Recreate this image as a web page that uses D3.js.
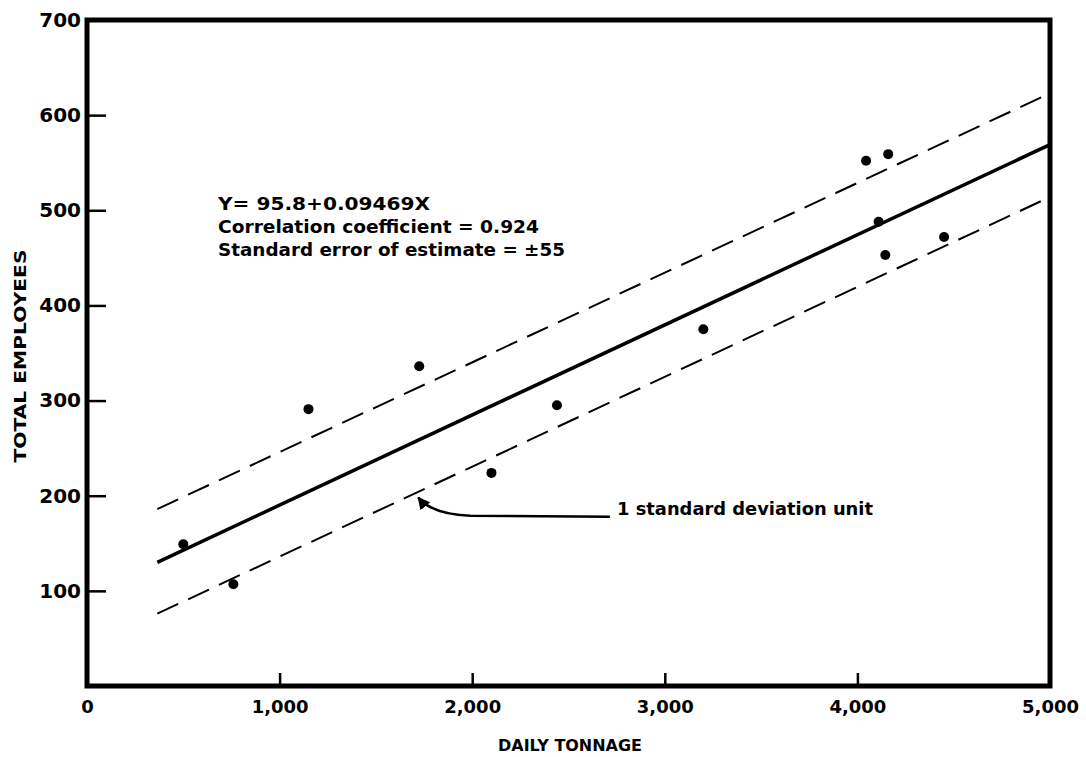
<!DOCTYPE html>
<html>
<head>
<meta charset="utf-8">
<script src="https://cdn.jsdelivr.net/npm/d3@7"></script>
<style>
  body { margin: 0; background: #fff; }
  svg text { font-family: "DejaVu Sans", sans-serif; font-weight: bold; fill: #000; }
</style>
</head>
<body>
<div class="chart"></div>
<script>
// data
var tonnage   = [500, 760, 1150, 1725, 2100, 2440, 3200, 4045, 4160, 4110, 4145, 4450];
var employees = [149, 107, 291, 336, 224, 295, 375, 552, 559, 488, 453, 472];

// regression line and +/- 1 standard error bands (end points)
var fitX   = [365, 5000];
var fitY   = [130, 569];
var upperY = [186, 623];
var lowerY = [76, 514];

var xTicks = [0, 1000, 2000, 3000, 4000, 5000];
var yTicks = [100, 200, 300, 400, 500, 600, 700];

var notes = ["Y= 95.8+0.09469X",
             "Correlation coefficient = 0.924",
             "Standard error of estimate = \u00B155"];
var noteWidths = [212, 321, 347];

var W = 1086, H = 757;
var svg = d3.select("div.chart").append("svg")
            .attr("width", W)
            .attr("height", H);

var x = d3.scaleLinear().domain([0, 5000]).range([87, 1050]);
var y = d3.scaleLinear().domain([0, 700]).range([686, 20]);

// lines
var line = d3.line()
             .x(function(d){ return x(d[0]); })
             .y(function(d){ return y(d[1]); });

svg.append("path")
   .attr("d", line(d3.zip(fitX, fitY)))
   .attr("fill", "none").attr("stroke", "#000").attr("stroke-width", 3.5);

[upperY, lowerY].forEach(function(band){
  svg.append("path")
     .attr("d", line(d3.zip(fitX, band)))
     .attr("fill", "none").attr("stroke", "#000").attr("stroke-width", 2)
     .attr("stroke-dasharray", "23,11");
});

// points
svg.selectAll(".pt")
   .data(d3.zip(tonnage, employees))
   .enter()
   .append("circle")
     .attr("cx", function(d){ return x(d[0]); })
     .attr("cy", function(d){ return y(d[1]); })
     .attr("r", 5)
     .attr("fill", "#000");

// axes
var yAxis = d3.axisLeft(y).tickValues(yTicks).tickSize(-19).tickPadding(6)
              .tickFormat(d3.format("d"));
var gy = svg.append("g").attr("transform", "translate(" + x(0) + ",0)").call(yAxis);
gy.select(".domain").remove();
gy.selectAll("line").attr("stroke", "#000").attr("stroke-width", 2.5);
gy.selectAll("text").style("font-size", "20px");

var xAxis = d3.axisBottom(x).tickValues(xTicks).tickSize(-13).tickPadding(14)
              .tickFormat(d3.format(","));
var gx = svg.append("g").attr("transform", "translate(0," + y(0) + ")").call(xAxis);
gx.select(".domain").remove();
gx.selectAll("line").attr("stroke", "#000").attr("stroke-width", 2.5);
gx.selectAll("text").style("font-size", "18px");

// frame
svg.append("rect")
   .attr("x", x(0)).attr("y", y(700))
   .attr("width", x(5000) - x(0)).attr("height", y(0) - y(700))
   .attr("fill", "none").attr("stroke", "#000").attr("stroke-width", 5);

// axis titles
svg.append("text")
   .attr("x", 570).attr("y", 751)
   .attr("text-anchor", "middle")
   .attr("textLength", 144).attr("lengthAdjust", "spacingAndGlyphs")
   .style("font-size", "16px")
   .text("DAILY TONNAGE");

svg.append("text")
   .attr("transform", "translate(26,356) rotate(-90)")
   .attr("text-anchor", "middle")
   .attr("textLength", 213).attr("lengthAdjust", "spacingAndGlyphs")
   .style("font-size", "16px")
   .text("TOTAL EMPLOYEES");

// equation block
svg.selectAll(".note")
   .data(notes)
   .enter()
   .append("text")
     .attr("x", 218)
     .attr("y", function(d, i){ return 210 + i * 23; })
     .attr("textLength", function(d, i){ return noteWidths[i]; })
     .attr("lengthAdjust", "spacingAndGlyphs")
     .style("font-size", "18px")
     .text(function(d){ return d; });

// arrow annotation
svg.append("defs").append("marker")
   .attr("id", "head")
   .attr("viewBox", "0 0 10 10")
   .attr("refX", 9).attr("refY", 5)
   .attr("markerWidth", 5).attr("markerHeight", 5)
   .attr("orient", "auto")
   .append("path").attr("d", "M0,0L10,5L0,10Z").attr("fill", "#000");

var tail = [x(2715), y(178)];
var tip  = [x(1720), y(198)];
svg.append("path")
   .attr("d", "M" + tail[0] + "," + tail[1] +
              "L" + (tip[0] + 52) + "," + (tail[1] - 1) +
              "C" + (tip[0] + 25) + "," + (tail[1] - 2) + " " +
                    (tip[0] + 9) + "," + (tail[1] - 8) + " " +
                    tip[0] + "," + tip[1])
   .attr("fill", "none").attr("stroke", "#000").attr("stroke-width", 2.5)
   .attr("marker-end", "url(#head)");

svg.append("text")
   .attr("x", 617).attr("y", 515)
   .attr("textLength", 256).attr("lengthAdjust", "spacingAndGlyphs")
   .style("font-size", "17px")
   .text("1 standard deviation unit");
</script>
</body>
</html>
